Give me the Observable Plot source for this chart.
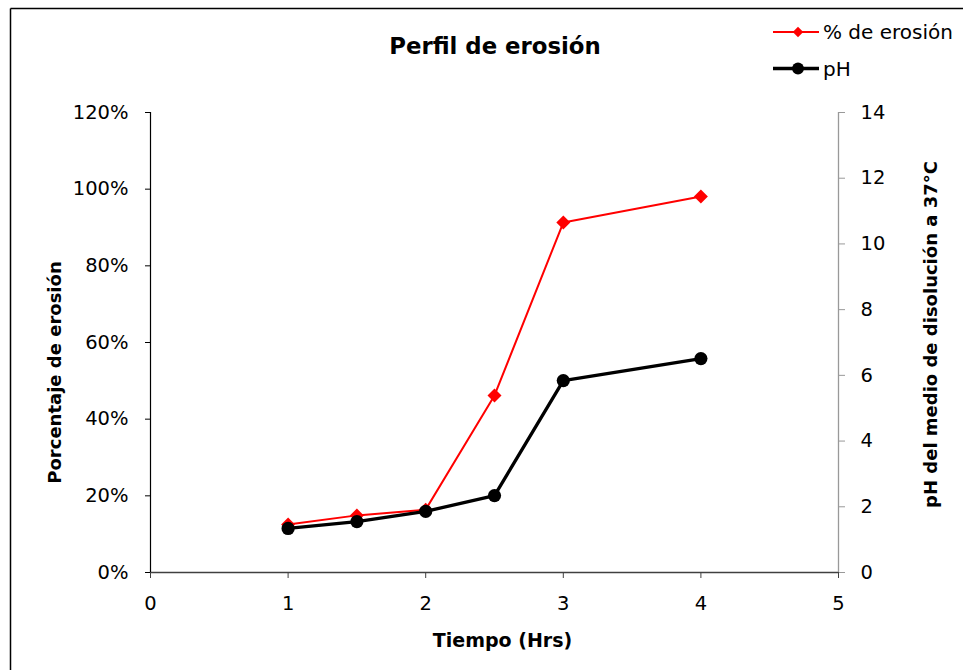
<!DOCTYPE html>
<html>
<head>
<meta charset="utf-8">
<script src="https://cdn.jsdelivr.net/npm/d3@7"></script>
<script src="https://cdn.jsdelivr.net/npm/@observablehq/plot@0.6"></script>
<style>
  html, body { margin: 0; padding: 0; background: #fff; }
  #chart { width: 963px; height: 670px; overflow: hidden; }
</style>
</head>
<body>
<div id="chart"></div>
<script>
// ---- data ----
const tiempo = [1, 1.5, 2, 2.5, 3, 4];
const erosion = [12.5, 14.9, 16.4, 46.2, 91.3, 98.1];   // %
const ph = [1.34, 1.55, 1.86, 2.34, 5.84, 6.51];
const xTicks = [0, 1, 2, 3, 4, 5];
const leftTicks = [0, 20, 40, 60, 80, 100, 120];
const rightTicks = [0, 2, 4, 6, 8, 10, 12, 14];
const title = "Perfil de erosión";
const xLabel = "Tiempo (Hrs)";
const yLeftLabel = "Porcentaje de erosión";
const yRightLabel = "pH del medio de disolución a 37°C";
const seriesNames = ["% de erosión", "pH"];

const FONT = "'DejaVu Sans', 'Liberation Sans', Arial, sans-serif";
const leftMax = 120, rightMax = 14;
const phToLeft = v => v * leftMax / rightMax;

const erosionData = tiempo.map((t, i) => ({t, v: erosion[i]}));
const phData = tiempo.map((t, i) => ({t, v: phToLeft(ph[i])}));

const plot = Plot.plot({
  width: 963,
  height: 670,
  marginLeft: 150,
  marginRight: 125,
  marginTop: 112,
  marginBottom: 98,
  style: {fontFamily: FONT, fontSize: "19px", color: "#000", background: "#fff"},
  x: {domain: [0, 5]},
  y: {domain: [0, leftMax]},
  marks: [
    Plot.axisX(xTicks, {tickSize: 6, tickPadding: 18, fontSize: 19.5, stroke: "#404040", tickFormat: d => String(d), label: null}),
    Plot.text([xLabel], {frameAnchor: "bottom", textAnchor: "middle", dx: 8, dy: 74, fontSize: 19, fontWeight: "bold", fill: "#000"}),
    Plot.ruleY([0], {stroke: "#404040", strokeWidth: 1.3}),
    Plot.axisY(leftTicks, {anchor: "left", tickSize: 5, tickPadding: 17, fontSize: 19.5, stroke: "#000", tickFormat: d => d + "%", label: null}),
    Plot.text([yLeftLabel], {frameAnchor: "left", textAnchor: "middle", dx: -95, dy: 30, rotate: -90, fontSize: 18, fontWeight: "bold", fill: "#000"}),
    Plot.ruleX([0], {stroke: "#000", strokeWidth: 1.2}),
    Plot.axisY(rightTicks.map(phToLeft), {anchor: "right", tickSize: 6, tickPadding: 16, fontSize: 19.5, stroke: "#999", tickFormat: d => String(Math.round(d * rightMax / leftMax)), label: null}),
    Plot.text([yRightLabel], {frameAnchor: "right", textAnchor: "middle", dx: 93, dy: -8, rotate: -90, fontSize: 18, fontWeight: "bold", fill: "#000"}),
    Plot.ruleX([5], {stroke: "#999", strokeWidth: 1.3}),
    Plot.line(erosionData, {x: "t", y: "v", stroke: "#ff0000", strokeWidth: 2}),
    Plot.dot(erosionData, {x: "t", y: "v", symbol: "diamond2", r: 6.3, fill: "#ff0000", stroke: "none"}),
    Plot.line(phData, {x: "t", y: "v", stroke: "#000", strokeWidth: 3.3}),
    Plot.dot(phData, {x: "t", y: "v", symbol: "circle", r: 6.6, fill: "#000", stroke: "none"})
  ]
});

document.getElementById("chart").appendChild(plot);

// title, legend and frame drawn into the same svg
const svg = d3.select(plot);
svg.append("text")
  .attr("x", 495).attr("y", 54)
  .attr("text-anchor", "middle")
  .attr("font-family", FONT)
  .attr("font-size", 22.8).attr("font-weight", "bold")
  .attr("fill", "#000")
  .text(title);

// frame
svg.append("line").attr("x1", 10.5).attr("x2", 963).attr("y1", 8.5).attr("y2", 8.5).attr("stroke", "#000").attr("stroke-width", 1.5);
svg.append("line").attr("x1", 10.5).attr("x2", 10.5).attr("y1", 8.5).attr("y2", 670).attr("stroke", "#000").attr("stroke-width", 1.5);

// legend
const leg = svg.append("g");
const legItems = [
  {name: seriesNames[0], color: "#ff0000", w: 2, sym: d3.symbolDiamond2, size: 70, y: 32},
  {name: seriesNames[1], color: "#000", w: 3.3, sym: d3.symbolCircle, size: 110, y: 68.5}
];
legItems.forEach(it => {
  leg.append("line").attr("x1", 773).attr("x2", 819).attr("y1", it.y).attr("y2", it.y)
    .attr("stroke", it.color).attr("stroke-width", it.w);
  leg.append("path").attr("d", d3.symbol(it.sym, it.size)())
    .attr("transform", `translate(798,${it.y})`).attr("fill", it.color);
  leg.append("text").attr("x", 823).attr("y", it.y + 7)
    .attr("text-anchor", "start")
    .attr("font-family", FONT)
    .attr("font-size", 20).attr("fill", "#000").text(it.name);
});
</script>
</body>
</html>
